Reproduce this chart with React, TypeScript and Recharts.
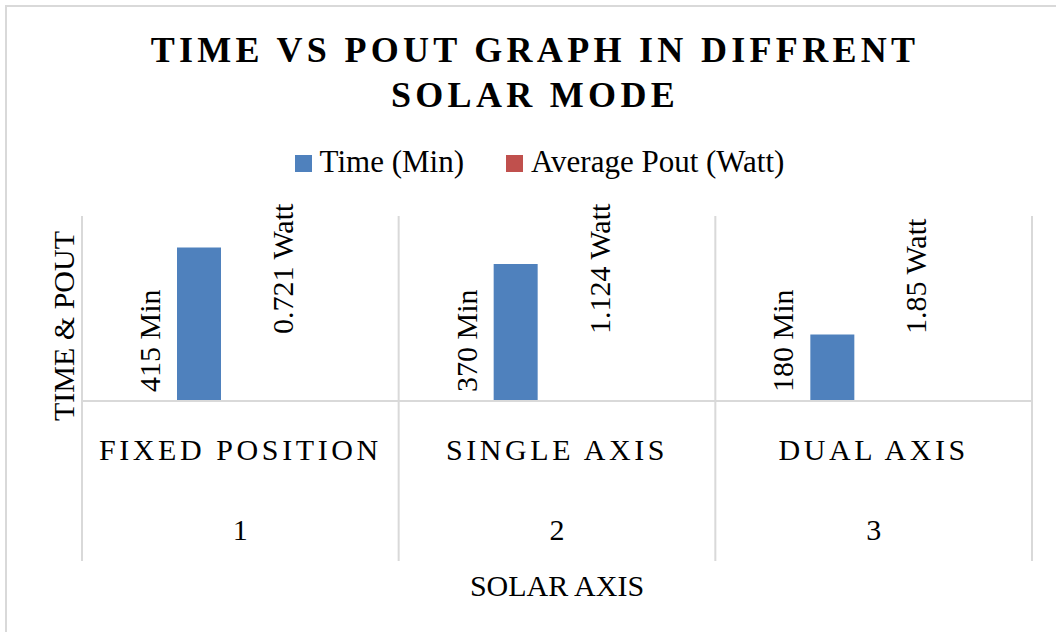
import React from 'react';
import { BarChart, Bar, XAxis, YAxis, Legend, LabelList } from 'recharts';

const categories = ['FIXED POSITION', 'SINGLE AXIS', 'DUAL AXIS'];
const categoryNumbers = ['1', '2', '3'];
const timeMin = [415, 370, 180];
const avgPoutWatt = [0.721, 1.124, 1.85];
const seriesOrder = ['time', 'pout'];

const data = categories.map((c, i) => ({
  mode: c,
  num: categoryNumbers[i],
  time: timeMin[i],
  pout: avgPoutWatt[i],
}));

const W = 1056;
const H = 632;
const PLOT_LEFT = 82;
const PLOT_RIGHT = 1032;
const PLOT_TOP = 216;
const PLOT_BOTTOM = 401;
const XAXIS_H = 160;
const FONT = "'Liberation Serif', 'Times New Roman', serif";
const GRID = '#d9d9d9';

const band = (PLOT_RIGHT - PLOT_LEFT) / categories.length;

const textStyle: React.CSSProperties = { fontFamily: FONT, fontSize: 30 };

const CategoryTick = (props: any) => {
  const { x, payload, index } = props;
  const left = x - band / 2;
  const right = x + band / 2;
  const last = index === categories.length - 1;
  return (
    <g>
      <line x1={left} x2={left} y1={PLOT_TOP} y2={PLOT_BOTTOM + XAXIS_H} stroke={GRID} strokeWidth={2} />
      {last && <line x1={right} x2={right} y1={PLOT_TOP} y2={PLOT_BOTTOM + XAXIS_H} stroke={GRID} strokeWidth={2} />}
      <text x={x} y={PLOT_BOTTOM + 59} textAnchor="middle" style={{ ...textStyle, letterSpacing: 3.6 }} fill="#000">
        {payload.value}
      </text>
      <text x={x} y={PLOT_BOTTOM + 139} textAnchor="middle" style={textStyle} fill="#000">
        {categoryNumbers[index]}
      </text>
    </g>
  );
};

const TimeLabel = (p: any) => {
  const bx = Number(p.x) - 17;
  const by = PLOT_BOTTOM - 9;
  return (
    <text x={bx} y={by} transform={`rotate(-90 ${bx} ${by})`} textAnchor="start" style={textStyle} fill="#000">
      {`${p.value} Min`}
    </text>
  );
};

const PoutLabel = (p: any) => {
  const bx = Number(p.x) + 34;
  const by = PLOT_BOTTOM - 67;
  return (
    <text x={bx} y={by} transform={`rotate(-90 ${bx} ${by})`} textAnchor="start" style={textStyle} fill="#000">
      {`${p.value} Watt`}
    </text>
  );
};

const LegendContent = (props: any) => {
  const items = [...(props.payload || [])].sort(
    (a: any, b: any) => seriesOrder.indexOf(a.dataKey) - seriesOrder.indexOf(b.dataKey)
  );
  return (
    <div style={{ display: 'flex', justifyContent: 'center', alignItems: 'center', fontFamily: FONT, fontSize: 31, lineHeight: '34px', color: '#000' }}>
      {items.map((it: any, i: number) => (
        <div key={i} style={{ display: 'flex', alignItems: 'center', marginLeft: i === 0 ? 0 : 42 }}>
          <span style={{ display: 'inline-block', width: 17, height: 17, background: it.color, marginRight: 8, marginTop: 2 }} />
          <span>{it.value}</span>
        </div>
      ))}
    </div>
  );
};

const YTitle = () => {
  const x = 74;
  const y = 326;
  return (
    <text x={x} y={y} transform={`rotate(-90 ${x} ${y})`} textAnchor="middle" style={textStyle} fill="#000">
      TIME &amp; POUT
    </text>
  );
};

const XTitle = (p: any) => {
  const vb = p.viewBox || {};
  const cx = vb.x + vb.width / 2;
  return (
    <text x={cx} y={596} textAnchor="middle" style={textStyle} fill="#000">
      SOLAR AXIS
    </text>
  );
};

export default function App() {
  return (
    <div style={{ position: 'absolute', left: 0, top: 0, width: W, height: H, overflow: 'hidden', background: '#fff' }}>
      <div style={{ position: 'absolute', left: 5, top: 5, width: W + 20, height: H + 20, border: `2px solid ${GRID}`, boxSizing: 'border-box' }} />
      <div
        style={{
          position: 'absolute',
          left: 0,
          top: 28,
          width: 1070,
          textAlign: 'center',
          fontFamily: FONT,
          fontWeight: 'bold',
          fontSize: 36,
          lineHeight: '45px',
          letterSpacing: 4.3,
          color: '#000',
          zIndex: 2,
        }}
      >
        <div>TIME VS POUT GRAPH IN DIFFRENT</div>
        <div>SOLAR MODE</div>
      </div>
      <div style={{ position: 'absolute', left: 0, top: 0 }}>
        <BarChart
          width={W}
          height={H}
          data={data}
          margin={{ top: PLOT_TOP, right: W - PLOT_RIGHT, left: PLOT_LEFT - 1, bottom: H - PLOT_BOTTOM - XAXIS_H }}
          barGap={38}
          barSize={44}
        >
          <XAxis
            dataKey="mode"
            height={XAXIS_H}
            axisLine={{ stroke: GRID, strokeWidth: 2 }}
            tickLine={false}
            tick={<CategoryTick />}
            interval={0}
            label={<XTitle />}
          />
          <YAxis
            width={1}
            domain={[0, 500]}
            tick={false}
            axisLine={false}
            tickLine={false}
            label={<YTitle />}
          />
          <Legend
            verticalAlign="middle"
            align="center"
            layout="horizontal"
            content={<LegendContent />}
            wrapperStyle={{ top: 145, left: 23, width: 1033, height: 34 }}
          />
          <Bar dataKey="time" name="Time (Min)" fill="#4f81bd" isAnimationActive={false}>
            <LabelList dataKey="time" content={<TimeLabel />} />
          </Bar>
          <Bar dataKey="pout" name="Average Pout (Watt)" fill="#c0504d" isAnimationActive={false}>
            <LabelList dataKey="pout" content={<PoutLabel />} />
          </Bar>
        </BarChart>
      </div>
    </div>
  );
}
